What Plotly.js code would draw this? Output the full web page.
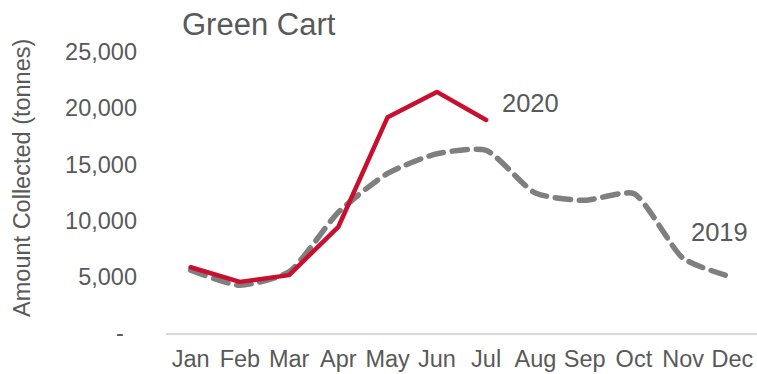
<!DOCTYPE html>
<html>
<head>
<meta charset="utf-8">
<script src="https://cdn.plot.ly/plotly-3.0.1.min.js"></script>
<style>
html,body{margin:0;padding:0;background:#fff;}
#chart{width:757px;height:374px;}
.js-line{stroke-linecap:round;stroke-linejoin:round;}
</style>
</head>
<body>
<div id="chart"></div>
<script>
const months = ["Jan","Feb","Mar","Apr","May","Jun","Jul","Aug","Sep","Oct","Nov","Dec"];
const values2020 = [5850, 4550, 5150, 9450, 19200, 21450, 18950];
const values2019 = [5600, 4250, 5450, 10750, 14200, 15950, 16250, 12450, 11800, 12400, 6650, 4950];
const yTickVals = [0, 5000, 10000, 15000, 20000, 25000];
const yTickText = ["-\u00a0\u00a0", "5,000", "10,000", "15,000", "20,000", "25,000"];
const seriesNames = ["2019", "2020"];
const yAxisTitle = "Amount Collected (tonnes)";

const txt = "#595959";
const F = "Liberation Sans, Arial, sans-serif";
const traces = [
  {
    x: months, y: values2019, name: seriesNames[0], type: "scatter", mode: "lines",
    line: {color: "#7f7f7f", width: 5.5, dash: "15px,9px", shape: "spline", smoothing: 0.6},
    hoverinfo: "skip"
  },
  {
    x: months.slice(0, values2020.length), y: values2020, name: seriesNames[1], type: "scatter", mode: "lines",
    line: {color: "#c8102e", width: 4.5},
    hoverinfo: "skip"
  }
];

const plotL = 166, plotW = 757 - 166;
const layout = {
  width: 757, height: 374,
  margin: {l: plotL, r: 0, t: 52, b: 41, pad: 0},
  paper_bgcolor: "#fff", plot_bgcolor: "#fff",
  showlegend: false,
  font: {family: F, color: txt, size: 23.5},
  title: {
    text: "Green Cart",
    font: {family: F, size: 31, color: txt},
    xref: "container", yref: "container",
    x: 182/757, xanchor: "left", y: 1 - 24/374, yanchor: "middle"
  },
  xaxis: {
    type: "category", categoryorder: "array", categoryarray: months,
    range: [-0.5, 11.5],
    showgrid: false, zeroline: false,
    showline: true, linecolor: "#d9d9d9", linewidth: 1.5,
    ticks: "", ticklabelstandoff: 4,
    tickfont: {size: 23.5, color: txt}
  },
  yaxis: {
    range: [0, 25000],
    tickvals: yTickVals, ticktext: yTickText,
    showgrid: false, zeroline: false, showline: false,
    ticks: "", ticklabelstandoff: 28,
    tickfont: {size: 23.5, color: txt}
  },
  annotations: [
    {x: (22 - plotL) / plotW, y: 0.552, xref: "paper", yref: "paper", text: yAxisTitle,
     textangle: -90, showarrow: false, font: {size: 23.5, color: txt},
     xanchor: "center", yanchor: "middle"},
    {x: 6.91, y: 20500, xref: "x", yref: "y", text: seriesNames[1], showarrow: false,
     font: {size: 25.5, color: txt}, xanchor: "center", yanchor: "middle"},
    {x: 10.73, y: 9000, xref: "x", yref: "y", text: seriesNames[0], showarrow: false,
     font: {size: 25.5, color: txt}, xanchor: "center", yanchor: "middle"}
  ]
};

Plotly.newPlot("chart", traces, layout, {displayModeBar: false, staticPlot: true});
</script>
</body>
</html>
